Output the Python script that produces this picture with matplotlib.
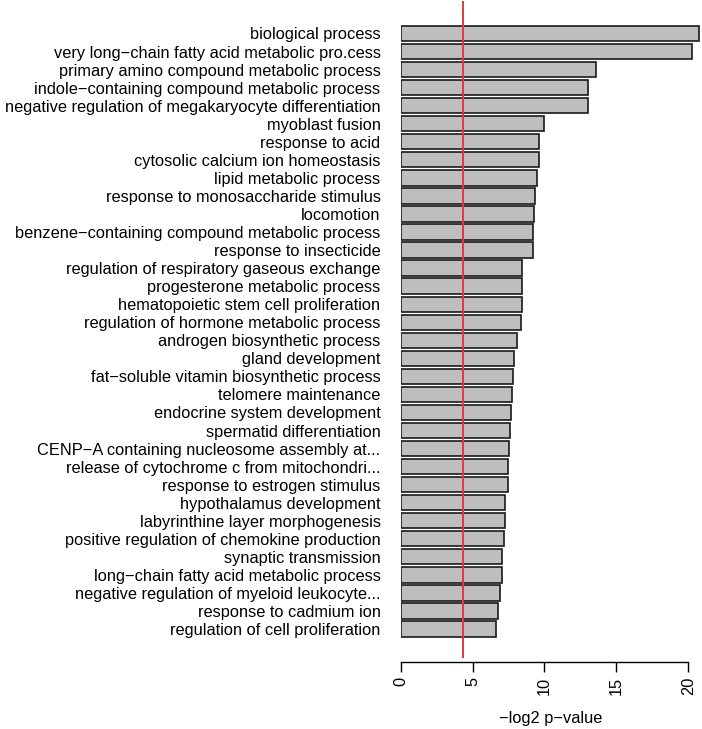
import matplotlib
matplotlib.use('Agg')
import numpy as np
from matplotlib import pyplot as plt

plt.rcParams['font.family'] = ['Liberation Sans', 'DejaVu Sans']

terms = [
    'biological process',
    'very long\u2212chain fatty acid metabolic pro.cess',
    'primary amino compound metabolic process',
    'indole\u2212containing compound metabolic process',
    'negative regulation of megakaryocyte differentiation',
    'myoblast fusion',
    'response to acid',
    'cytosolic calcium ion homeostasis',
    'lipid metabolic process',
    'response to monosaccharide stimulus',
    'locomotion',
    'benzene\u2212containing compound metabolic process',
    'response to insecticide',
    'regulation of respiratory gaseous exchange',
    'progesterone metabolic process',
    'hematopoietic stem cell proliferation',
    'regulation of hormone metabolic process',
    'androgen biosynthetic process',
    'gland development',
    'fat\u2212soluble vitamin biosynthetic process',
    'telomere maintenance',
    'endocrine system development',
    'spermatid differentiation',
    'CENP\u2212A containing nucleosome assembly at...',
    'release of cytochrome c from mitochondri...',
    'response to estrogen stimulus',
    'hypothalamus development',
    'labyrinthine layer morphogenesis',
    'positive regulation of chemokine production',
    'synaptic transmission',
    'long\u2212chain fatty acid metabolic process',
    'negative regulation of myeloid leukocyte...',
    'response to cadmium ion',
    'regulation of cell proliferation',
]
neg_log2_p = [
    20.77, 20.26, 13.60, 13.05, 13.05, 9.97, 9.60, 9.60, 9.50, 9.32,
    9.27, 9.18, 9.18, 8.41, 8.41, 8.41, 8.34, 8.09, 7.86, 7.79,
    7.74, 7.67, 7.62, 7.53, 7.48, 7.44, 7.27, 7.27, 7.20, 7.07,
    7.04, 6.93, 6.79, 6.65,
]
cutoff = -np.log2(0.05)
x_ticks = [0, 5, 10, 15, 20]

W, H = 702, 729
fig = plt.figure(figsize=(W / 100, H / 100), dpi=100)
# plot region in pixels
left, right, top, bottom = 400.7, 701.2, 1, 658
ax = fig.add_axes([left / W, 1 - bottom / H, (right - left) / W, (bottom - top) / H])

pos = np.arange(len(terms))
ax.barh(pos, neg_log2_p, height=0.85, color='#bebebe', edgecolor='#1a1a1a', linewidth=1.2, zorder=2)
ax.axvline(cutoff, color='#e23a3a', linewidth=1.4, zorder=3)

pitch = (629 - 33.5) / 33
ax.set_xlim(0, 20.9)
ax.set_ylim(33 + (bottom - 629) / pitch, -(33.5 - top) / pitch)

fs = 11.8
ax.set_yticks(pos)
ax.set_yticklabels(terms, fontsize=fs)
ax.tick_params(axis='y', length=0, pad=14.5)

for s in ['top', 'right', 'left']:
    ax.spines[s].set_visible(False)
ax.spines['bottom'].set_position(('outward', 2.7))
ax.spines['bottom'].set_bounds(0, 20)
ax.spines['bottom'].set_linewidth(1.0)
ax.set_xticks(x_ticks)
ax.set_xticklabels([str(t) for t in x_ticks], rotation=90, fontsize=fs)
ax.tick_params(axis='x', length=7, width=1.0, pad=4)
ax.set_xlabel('\u2212log2 p\u2212value', fontsize=fs, labelpad=11)

plt.savefig('out.png', dpi=100)
